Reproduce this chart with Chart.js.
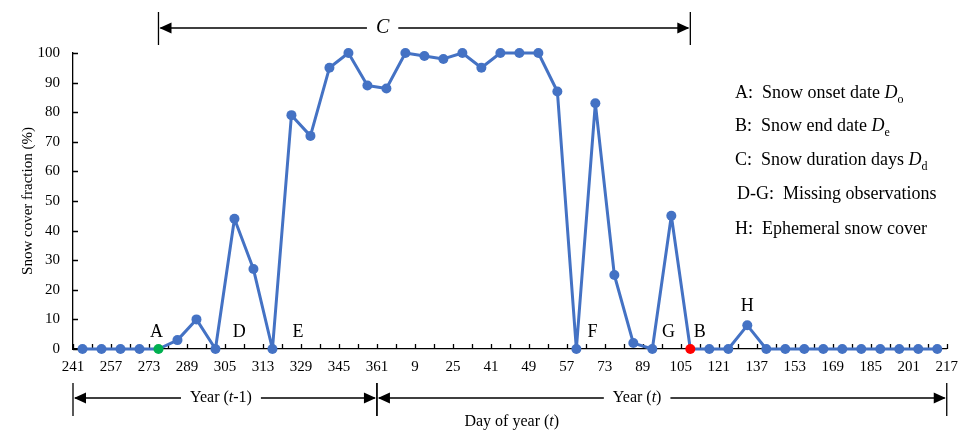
<!DOCTYPE html>
<html>
<head>
<meta charset="utf-8">
<script src="https://cdn.jsdelivr.net/npm/chart.js@4.4.0/dist/chart.umd.min.js"></script>
<style>
    html, body { margin: 0; padding: 0; background: #fff; }
    #wrap { width: 967px; height: 432px; }
</style>
</head>
<body>
<div id="wrap"><canvas id="chart" width="967" height="432"></canvas></div>
<script>
// Tick labels written under the x axis (one every two composites)
const dayLabels = ['241', '257', '273', '289', '305', '313', '329', '345', '361',
    '9', '25', '41', '49', '57', '73', '89', '105', '121', '137', '153', '169', '185', '201', '217'];

// Snow cover fraction (%) of each 8-day composite
const snowFraction = [0, 0, 0, 0, 0, 3, 10, 0, 44, 27,
    0, 79, 72, 95, 100, 89, 88, 100, 99, 98,
    100, 95, 100, 100, 100, 87, 0, 83, 25, 2,
    0, 45, 0, 0, 0, 8, 0, 0, 0, 0,
    0, 0, 0, 0, 0, 0];

const onsetIndex = 4;   // A
const endIndex = 32;    // B
const yearSplit = 16;   // composites in year t-1

const blue = '#4472C4';
const serif = '"Liberation Serif", "Times New Roman", serif';

// Letters placed on the plot (x in composite units, y in %)
const letterMarks = [
    { t: 'A', x: 4.4, y: 5.6 },
    { t: 'D', x: 8.75, y: 5.6 },
    { t: 'E', x: 11.85, y: 5.6 },
    { t: 'F', x: 27.35, y: 5.8 },
    { t: 'G', x: 31.35, y: 5.8 },
    { t: 'B', x: 33.0, y: 5.8 },
    { t: 'H', x: 35.5, y: 14.6 }
];

const legendLines = [
    [['A:  Snow onset date ', ''], ['D', 'i'], ['o', 's']],
    [['B:  Snow end date ', ''], ['D', 'i'], ['e', 's']],
    [['C:  Snow duration days ', ''], ['D', 'i'], ['d', 's']],
    [['D-G:  Missing observations', '']],
    [['H:  Ephemeral snow cover', '']]
];

const points = snowFraction.map((v, i) => ({ x: i + 0.5, y: v }));
const pointColors = snowFraction.map((v, i) =>
    i === onsetIndex ? '#00B050' : (i === endIndex ? '#FF0000' : blue));

function segFont(kind, size) {
    if (kind === 'i') return 'italic ' + size + 'px ' + serif;
    if (kind === 's') return Math.round(size * 0.65) + 'px ' + serif;
    return size + 'px ' + serif;
}

// draw text made of several styled pieces, starting at x
function drawRich(ctx, parts, x, y, size, align) {
    let total = 0;
    parts.forEach(p => { ctx.font = segFont(p[1], size); total += ctx.measureText(p[0]).width; });
    let cx = align === 'center' ? x - total / 2 : x;
    parts.forEach(p => {
        ctx.font = segFont(p[1], size);
        ctx.fillText(p[0], cx, y + (p[1] === 's' ? size * 0.3 : 0));
        cx += ctx.measureText(p[0]).width;
    });
    return total;
}

function arrowHead(ctx, x, y, dir) {
    ctx.beginPath();
    ctx.moveTo(x, y);
    ctx.lineTo(x - dir * 12, y - 5.5);
    ctx.lineTo(x - dir * 12, y + 5.5);
    ctx.closePath();
    ctx.fill();
}

// two-headed span with end bars and a label in a gap
function drawSpan(ctx, x1, x2, y, barTop, barBottom, parts, labelX, size) {
    ctx.beginPath();
    ctx.moveTo(x1, barTop); ctx.lineTo(x1, barBottom);
    ctx.moveTo(x2, barTop); ctx.lineTo(x2, barBottom);
    ctx.stroke();
    let w = 0;
    parts.forEach(p => { ctx.font = segFont(p[1], size); w += ctx.measureText(p[0]).width; });
    const gap = 9;
    ctx.beginPath();
    ctx.moveTo(x1 + 2, y); ctx.lineTo(labelX - w / 2 - gap, y);
    ctx.moveTo(labelX + w / 2 + gap, y); ctx.lineTo(x2 - 2, y);
    ctx.stroke();
    arrowHead(ctx, x1 + 1, y, -1);
    arrowHead(ctx, x2 - 1, y, 1);
    ctx.textBaseline = 'middle';
    drawRich(ctx, parts, labelX, y, size, 'center');
}

const decorations = {
    id: 'decorations',
    beforeDatasetsDraw(chart) {
        const { ctx, scales: { x, y } } = chart;
        const x0 = x.left, y0 = y.bottom;
        ctx.save();
        ctx.strokeStyle = '#000';
        ctx.lineWidth = 1.3;
        ctx.beginPath();
        x.ticks.forEach(t => {
            const px = Math.round(x.getPixelForValue(t.value)) + 0.5;
            ctx.moveTo(px, y0); ctx.lineTo(px, y0 - 5);
        });
        y.ticks.forEach(t => {
            const py = Math.round(y.getPixelForValue(t.value)) + 0.5;
            ctx.moveTo(x0, py); ctx.lineTo(x0 + 5, py);
        });
        ctx.stroke();
        ctx.restore();
    },
    afterDraw(chart) {
        const { ctx, scales: { x, y } } = chart;
        ctx.save();
        ctx.fillStyle = '#000';
        ctx.strokeStyle = '#000';
        ctx.lineWidth = 1.3;

        // letters on the plot
        ctx.textAlign = 'center';
        ctx.textBaseline = 'middle';
        ctx.font = '18px ' + serif;
        letterMarks.forEach(m => {
            ctx.fillText(m.t, x.getPixelForValue(m.x), y.getPixelForValue(m.y));
        });
        ctx.textAlign = 'left';

        // C span across the top, from onset to end
        drawSpan(ctx, x.getPixelForValue(onsetIndex + 0.5), x.getPixelForValue(endIndex + 0.5),
            28, 12, 45, [['C', 'i']], x.getPixelForValue(16.3), 20);

        // year spans under the axis
        const xa = x.getPixelForValue(0), xs = x.getPixelForValue(yearSplit), xb = x.getPixelForValue(snowFraction.length);
        drawSpan(ctx, xa, xs, 398, 383, 416, [['Year (', ''], ['t', 'i'], ['-1)', '']], (xa + xs) / 2 - 4, 16);
        drawSpan(ctx, xs, xb, 398, 383, 416, [['Year (', ''], ['t', 'i'], [')', '']], x.getPixelForValue(29.7), 16);

        // x axis title
        ctx.textBaseline = 'middle';
        drawRich(ctx, [['Day of year (', ''], ['t', 'i'], [')', '']], x.getPixelForValue(23.1), 422, 16, 'center');

        // notes on the right
        ctx.textBaseline = 'alphabetic';
        const baselines = [98, 131, 165, 199, 234];
        legendLines.forEach((parts, i) => {
            drawRich(ctx, parts, i === 3 ? 737 : 735, baselines[i], 18, 'left');
        });
        ctx.restore();
    }
};

new Chart(document.getElementById('chart'), {
    type: 'line',
    data: {
        datasets: [{
            data: points,
            borderColor: blue,
            borderWidth: 3,
            borderJoinStyle: 'round',
            borderCapStyle: 'round',
            pointRadius: 5,
            pointBackgroundColor: pointColors,
            pointBorderColor: pointColors,
            pointBorderWidth: 0,
            tension: 0,
            clip: false
        }]
    },
    options: {
        responsive: false,
        animation: false,
        devicePixelRatio: 1,
        layout: { padding: { top: 53, right: 17, left: 0, bottom: 0 } },
        plugins: { legend: { display: false }, tooltip: { enabled: false } },
        scales: {
            x: {
                type: 'linear',
                min: 0,
                max: snowFraction.length,
                afterFit: s => { s.height = 83; },
                grid: { drawOnChartArea: false, drawTicks: false },
                border: { color: '#000', width: 1.3 },
                ticks: {
                    stepSize: 1,
                    autoSkip: false,
                    maxRotation: 0,
                    padding: 9,
                    color: '#000',
                    font: { family: serif, size: 15 },
                    callback: v => (v % 2 === 0 ? dayLabels[v / 2] : '')
                }
            },
            y: {
                min: 0,
                max: 100,
                afterFit: s => { s.width = 73; },
                grid: { drawOnChartArea: false, drawTicks: false },
                border: { color: '#000', width: 1.3 },
                ticks: {
                    stepSize: 10,
                    padding: 13,
                    color: '#000',
                    font: { family: serif, size: 15 }
                },
                title: {
                    display: true,
                    text: 'Snow cover fraction (%)',
                    color: '#000',
                    font: { family: serif, size: 15 },
                    padding: { top: 19, bottom: 0 }
                }
            }
        }
    },
    plugins: [decorations]
});
</script>
</body>
</html>
